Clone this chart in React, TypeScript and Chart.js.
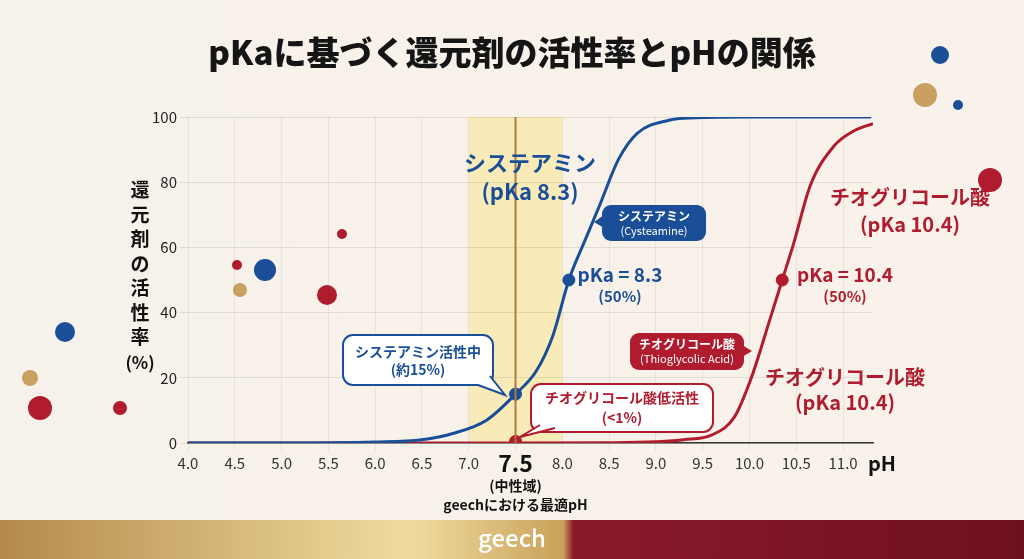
import { useEffect, useRef } from 'react';
import { Chart, registerables } from 'chart.js';

Chart.register(...registerables);

const xTicks = [4.0, 4.5, 5.0, 5.5, 6.0, 6.5, 7.0, 7.5, 8.0, 8.5, 9.0, 9.5, 10.0, 10.5, 11.0];
const yTicks = [0, 20, 40, 60, 80, 100];

// システアミン curve
const cysPH = [4.0, 5.0, 6.0, 6.5, 6.84, 7.19, 7.5, 7.72, 7.9, 8.07, 8.24, 8.4, 8.6, 8.8, 9.14, 9.3, 10.0, 11.0, 11.3];
const cysVal = [0, 0, 0.3, 1, 3, 7, 15, 22, 33, 50, 62, 73, 87, 95, 99, 99.6, 100, 100, 100];

// チオグリコール酸 curve
const tgaPH = [4.0, 7.5, 8.5, 9.0, 9.3, 9.6, 9.84, 10.02, 10.23, 10.35, 10.47, 10.65, 10.9, 11.1, 11.32];
const tgaVal = [0, 0, 0.1, 0.4, 1, 2.5, 8, 20, 39, 50, 61, 79, 91, 95.5, 98];

const cysMarks = [{ x: 7.5, y: 15 }, { x: 8.07, y: 50 }];
const tgaMarks = [{ x: 7.5, y: 0.5 }, { x: 10.35, y: 50 }];

const BLUE = '#1a4f97';
const RED = '#b01c2e';
const FONT = '"Noto Sans CJK JP", "Noto Sans", sans-serif';

function rr(ctx: CanvasRenderingContext2D, x: number, y: number, w: number, h: number, r: number) {
  ctx.beginPath();
  ctx.moveTo(x + r, y);
  ctx.arcTo(x + w, y, x + w, y + h, r);
  ctx.arcTo(x + w, y + h, x, y + h, r);
  ctx.arcTo(x, y + h, x, y, r);
  ctx.arcTo(x, y, x + w, y, r);
  ctx.closePath();
}

const deco = {
  id: 'deco',
  beforeDraw(chart: any) {
    const { ctx, width, height, chartArea: a, scales } = chart;
    ctx.save();
    const bg = ctx.createLinearGradient(0, 0, width, 0);
    bg.addColorStop(0, '#f6f1ea');
    bg.addColorStop(1, '#f9f2ea');
    ctx.fillStyle = bg;
    ctx.fillRect(0, 0, width, height);
    // bottom band
    const band = ctx.createLinearGradient(0, 0, width, 0);
    band.addColorStop(0, '#b48a4a');
    band.addColorStop(0.4, '#f0dca0');
    band.addColorStop(0.55, '#c9a25a');
    band.addColorStop(0.56, '#8a1a2a');
    band.addColorStop(1, '#6e1020');
    ctx.fillStyle = band;
    ctx.fillRect(0, 520, width, 39);
    ctx.fillStyle = '#ffffff';
    ctx.font = `500 24px ${FONT}`;
    ctx.textAlign = 'center';
    ctx.textBaseline = 'middle';
    ctx.fillText('geech', width / 2, 538);
    // title
    ctx.fillStyle = '#151515';
    ctx.font = `900 33px ${FONT}`;
    ctx.fillText('pKaに基づく還元剤の活性率とpHの関係', width / 2, 52);
    // neutral band
    const x = scales.x;
    ctx.fillStyle = 'rgba(250,230,140,0.55)';
    ctx.fillRect(x.getPixelForValue(7.0), a.top, x.getPixelForValue(8.0) - x.getPixelForValue(7.0), a.bottom - a.top);
    // decorative spheres
    const balls: [number, number, number, string][] = [
      [940, 55, 9, BLUE], [925, 95, 12, '#c9a060'], [990, 180, 12, RED], [958, 105, 5, BLUE],
      [65, 332, 10, BLUE], [30, 378, 8, '#c9a060'], [40, 408, 12, RED], [120, 408, 7, RED],
      [265, 270, 11, BLUE], [240, 290, 7, '#c9a060'], [327, 295, 10, RED], [237, 265, 5, RED], [342, 234, 5, RED],
    ];
    for (const [bx, by, br, c] of balls) {
      ctx.fillStyle = c;
      ctx.beginPath();
      ctx.arc(bx, by, br, 0, Math.PI * 2);
      ctx.fill();
    }
    ctx.restore();
  },
  afterDraw(chart: any) {
    const { ctx, chartArea: a, scales } = chart;
    const x = scales.x;
    ctx.save();
    // 7.5 line
    ctx.strokeStyle = '#b07a40';
    ctx.lineWidth = 2;
    ctx.beginPath();
    ctx.moveTo(x.getPixelForValue(7.5), a.top);
    ctx.lineTo(x.getPixelForValue(7.5), a.bottom);
    ctx.stroke();

    ctx.textAlign = 'center';
    ctx.textBaseline = 'middle';
    // y title stacked
    ctx.fillStyle = '#111';
    ctx.font = `bold 19px ${FONT}`;
    const yt = ['還', '元', '剤', 'の', '活', '性', '率'];
    yt.forEach((c, i) => ctx.fillText(c, 140, 190 + i * 24.5));
    ctx.font = `bold 17px ${FONT}`;
    ctx.fillText('(%)', 140, 363);
    // pH unit
    ctx.font = `bold 20px ${FONT}`;
    ctx.fillText('pH', 882, 463);
    // 7.5 emphasised tick and notes
    ctx.font = `bold 23px ${FONT}`;
    ctx.fillText('7.5', x.getPixelForValue(7.5), 463);
    ctx.font = `bold 14px ${FONT}`;
    ctx.fillText('(中性域)', x.getPixelForValue(7.5), 486);
    ctx.fillText('geechにおける最適pH', x.getPixelForValue(7.5), 505);

    // big labels
    ctx.fillStyle = BLUE;
    ctx.font = `bold 22px ${FONT}`;
    ctx.fillText('システアミン', 530, 163);
    ctx.fillText('(pKa 8.3)', 530, 192);
    ctx.font = `bold 19px ${FONT}`;
    ctx.fillText('pKa = 8.3', 620, 275);
    ctx.font = `bold 15px ${FONT}`;
    ctx.fillText('(50%)', 620, 296);
    ctx.fillStyle = RED;
    ctx.font = `bold 20px ${FONT}`;
    ctx.fillText('チオグリコール酸', 910, 197);
    ctx.fillText('(pKa 10.4)', 910, 224);
    ctx.fillText('チオグリコール酸', 845, 377);
    ctx.fillText('(pKa 10.4)', 845, 402);
    ctx.font = `bold 19px ${FONT}`;
    ctx.fillText('pKa = 10.4', 845, 275);
    ctx.font = `bold 15px ${FONT}`;
    ctx.fillText('(50%)', 845, 296);

    // filled tags
    ctx.fillStyle = BLUE;
    rr(ctx, 602, 205, 104, 36, 9);
    ctx.fill();
    ctx.beginPath();
    ctx.moveTo(604, 215); ctx.lineTo(594, 222); ctx.lineTo(604, 228); ctx.fill();
    ctx.fillStyle = '#fff';
    ctx.font = `bold 12px ${FONT}`;
    ctx.fillText('システアミン', 654, 216);
    ctx.font = `11px ${FONT}`;
    ctx.fillText('(Cysteamine)', 654, 231);
    ctx.fillStyle = RED;
    rr(ctx, 630, 333, 114, 37, 9);
    ctx.fill();
    ctx.beginPath();
    ctx.moveTo(742, 345); ctx.lineTo(752, 351); ctx.lineTo(742, 357); ctx.fill();
    ctx.fillStyle = '#fff';
    ctx.font = `bold 12px ${FONT}`;
    ctx.fillText('チオグリコール酸', 687, 344);
    ctx.font = `11px ${FONT}`;
    ctx.fillText('(Thioglycolic Acid)', 687, 359);

    // outlined callouts
    ctx.lineWidth = 2;
    ctx.fillStyle = '#fff';
    ctx.strokeStyle = BLUE;
    rr(ctx, 343, 335, 150, 50, 10);
    ctx.fill(); ctx.stroke();
    ctx.beginPath();
    ctx.moveTo(478, 385); ctx.lineTo(505, 395); ctx.lineTo(490, 376);
    ctx.fill(); ctx.stroke();
    ctx.fillStyle = BLUE;
    ctx.font = `bold 14px ${FONT}`;
    ctx.fillText('システアミン活性中', 418, 352);
    ctx.fillText('(約15%)', 418, 370);
    ctx.fillStyle = '#fff';
    ctx.strokeStyle = RED;
    rr(ctx, 531, 384, 182, 48, 10);
    ctx.fill(); ctx.stroke();
    ctx.beginPath();
    ctx.moveTo(540, 425); ctx.lineTo(520, 437); ctx.lineTo(555, 428);
    ctx.fill(); ctx.stroke();
    ctx.fillStyle = RED;
    ctx.fillText('チオグリコール酸低活性', 622, 398);
    ctx.fillText('(<1%)', 622, 418);
    ctx.restore();
  },
};

export default function App() {
  const canvasRef = useRef<HTMLCanvasElement>(null);

  useEffect(() => {
    if (!canvasRef.current) return;
    const chart = new Chart(canvasRef.current, {
      type: 'line',
      data: {
        datasets: [
          {
            data: cysPH.map((p, i) => ({ x: p, y: cysVal[i] })),
            borderColor: BLUE, borderWidth: 3, pointRadius: 0, cubicInterpolationMode: 'monotone',
          },
          {
            data: tgaPH.map((p, i) => ({ x: p, y: tgaVal[i] })),
            borderColor: RED, borderWidth: 3, pointRadius: 0, cubicInterpolationMode: 'monotone',
          },
          {
            data: cysMarks, showLine: false, pointRadius: 6, pointBackgroundColor: BLUE, pointBorderColor: BLUE,
          },
          {
            data: tgaMarks, showLine: false, pointRadius: 6, pointBackgroundColor: RED, pointBorderColor: RED,
          },
        ],
      },
      options: {
        animation: false,
        responsive: false,
        layout: { padding: { left: 148, right: 151, top: 117, bottom: 86 } },
        plugins: { legend: { display: false }, tooltip: { enabled: false } },
        scales: {
          x: {
            type: 'linear', min: 4.0, max: 11.32,
            afterFit: (s: any) => { s.height = 30; },
            afterBuildTicks: (s: any) => { s.ticks = xTicks.map((v) => ({ value: v })); },
            border: { color: '#333', width: 1.5 },
            grid: { color: 'rgba(0,0,0,0.06)' },
            ticks: {
              color: '#333',
              font: { family: FONT, size: 15 },
              callback: (v: any) => (Number(v) === 7.5 ? '' : Number(v).toFixed(1)),
            },
          },
          y: {
            min: 0, max: 100,
            afterFit: (s: any) => { s.width = 40; },
            afterBuildTicks: (s: any) => { s.ticks = yTicks.map((v) => ({ value: v })); },
            border: { display: false },
            grid: { color: 'rgba(0,0,0,0.09)' },
            ticks: { color: '#222', font: { family: FONT, size: 15 } },
          },
        },
      },
      plugins: [deco],
    } as any);
    return () => chart.destroy();
  }, []);

  return (
    <div style={{ position: 'fixed', left: 0, top: 0, width: 1024, height: 559 }}>
      <canvas ref={canvasRef} width={1024} height={559} style={{ width: 1024, height: 559 }}></canvas>
    </div>
  );
}
